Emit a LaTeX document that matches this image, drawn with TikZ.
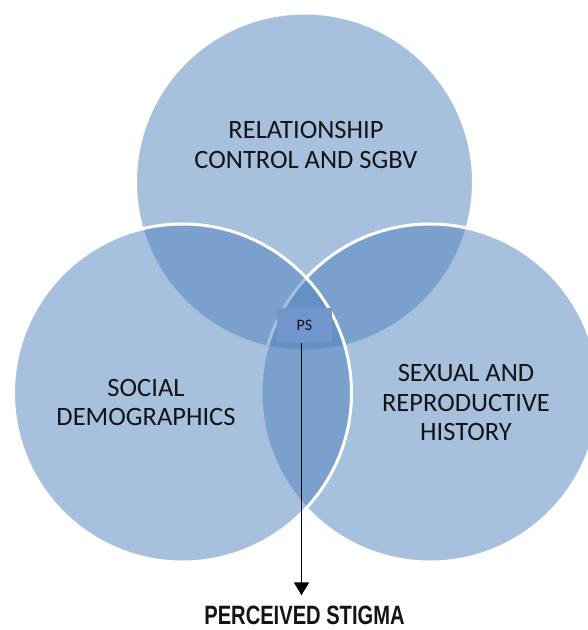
\documentclass[tikz,border=0pt]{standalone}
\usepackage{fontspec}
\setmainfont{Carlito}
\newfontfamily\stigmafont[FakeStretch=0.76]{Liberation Sans}
\usetikzlibrary{arrows.meta}
\definecolor{venn}{RGB}{79,129,189}
\definecolor{psbox}{RGB}{112,150,203}
\definecolor{txt}{RGB}{20,20,20}
\begin{document}
\begin{tikzpicture}[x=1pt,y=-1pt,
  vennset/.style={circle, minimum size=338pt, inner sep=0pt, fill=venn, fill opacity=0.5, draw=white, draw opacity=1, line width=3pt},
  lbl/.style={align=center, font=\fontsize{26.5}{29.5}\selectfont, text=txt, inner sep=0pt},
]
\useasboundingbox (0,0) rectangle (588,630);
\node[vennset] (top) at (304.5,182) {};
\node[vennset] (right) at (430,393) {};
\node[vennset] (left) at (182.5,393) {};
\node[lbl] (toplbl) at (306,145) {RELATIONSHIP\\CONTROL AND SGBV};
\node[lbl] (leftlbl) at (146,402.5) {SOCIAL\\DEMOGRAPHICS};
\node[lbl] (rightlbl) at (466,402.5) {SEXUAL AND\\REPRODUCTIVE\\HISTORY};
\node[fill=psbox, minimum width=55pt, minimum height=35pt, inner sep=0pt,
      font=\fontsize{16}{16}\selectfont, text=txt] (ps) at (304.5,325) {PS};
\node[anchor=base, inner sep=0pt, font=\stigmafont\bfseries\fontsize{26.5}{26.5}\selectfont, text=txt]
  (stigma) at (304.5,624) {PERCEIVED STIGMA};
\draw[line width=1.6pt, -{Triangle[length=13pt,width=15pt]}, shorten >=10pt]
  ([xshift=-3pt]ps.south) -- ([xshift=-3pt]ps.south |- stigma.north);
\end{tikzpicture}
\end{document}
